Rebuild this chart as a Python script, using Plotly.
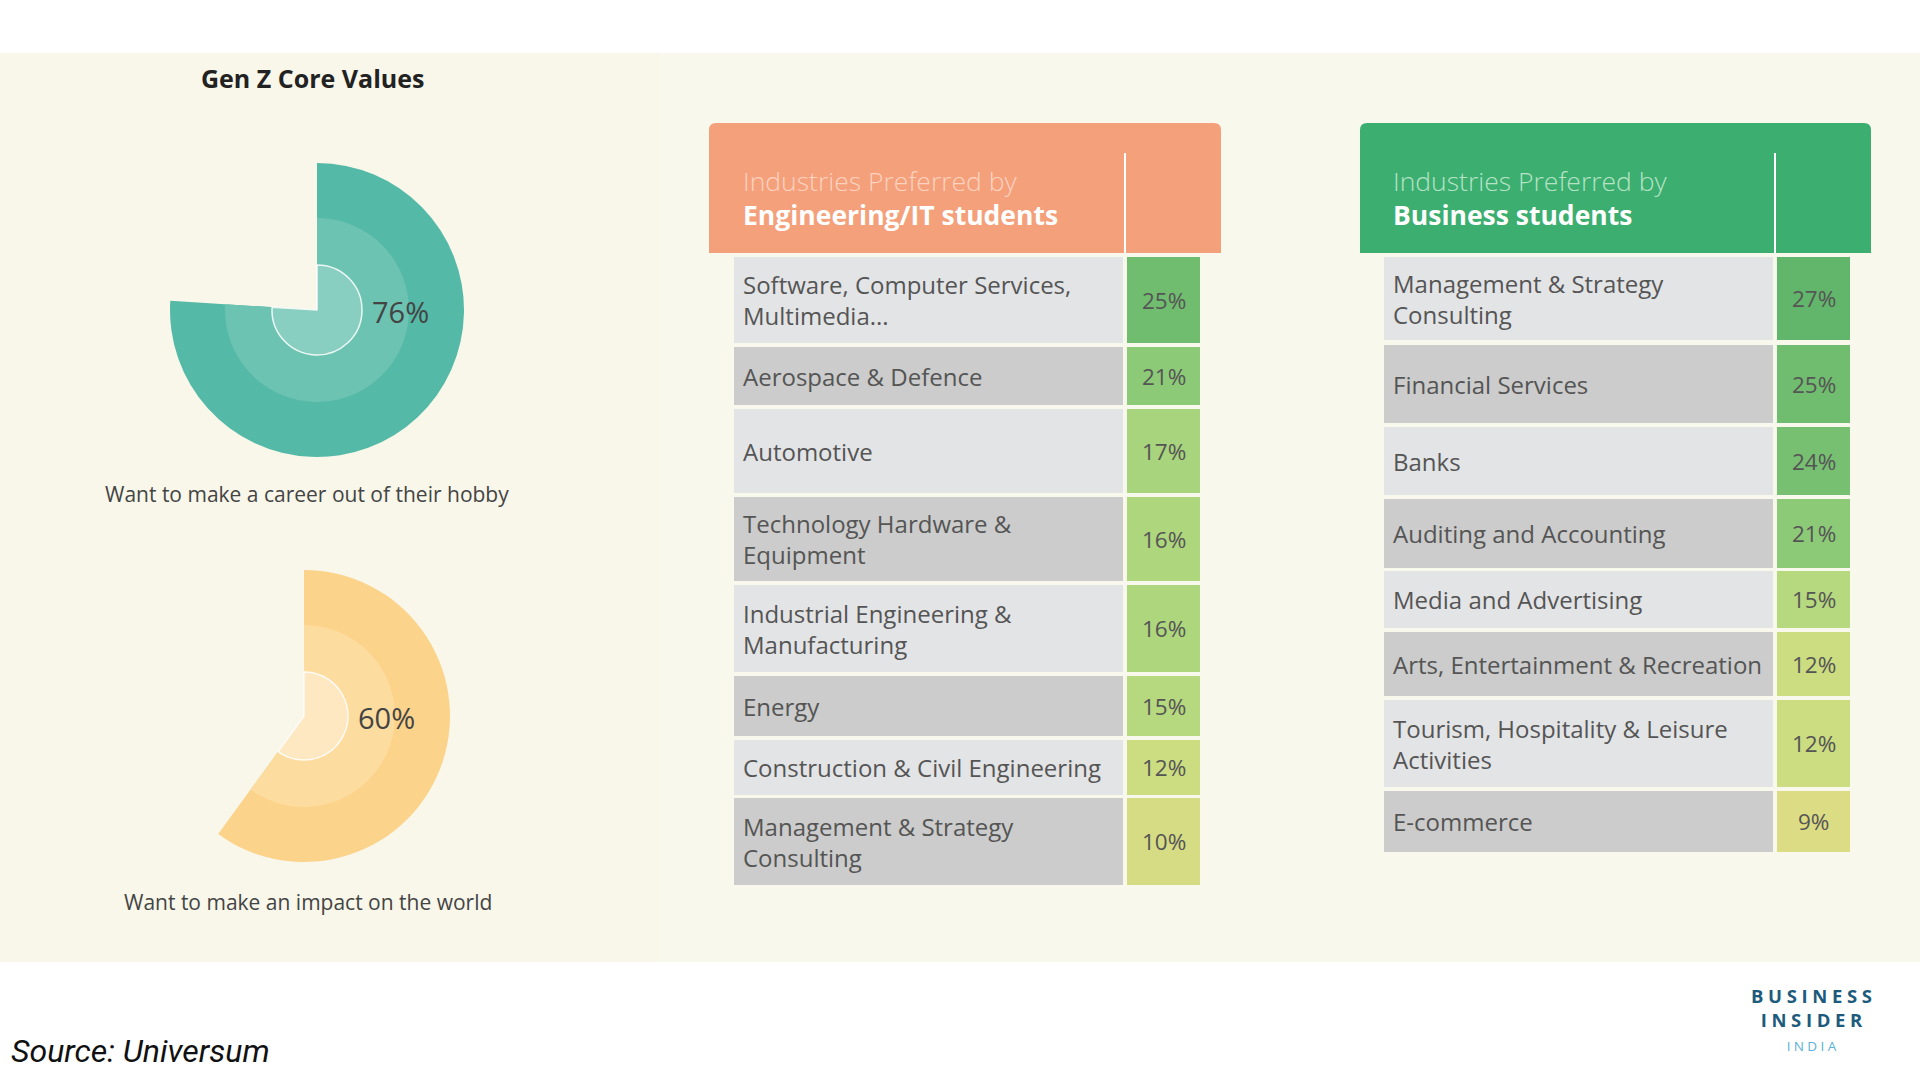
import plotly.graph_objects as go
from plotly.colors import sample_colorscale

# ---------------- data ----------------
TITLE = "Gen Z Core Values"
CORE_VALUES = [76, 60]
CORE_LABELS = ["Want to make a career out of their hobby", "Want to make an impact on the world"]

ENG_INDUSTRIES = [
    "Software, Computer Services,<br>Multimedia...",
    "Aerospace & Defence",
    "Automotive",
    "Technology Hardware &<br>Equipment",
    "Industrial Engineering &<br>Manufacturing",
    "Energy",
    "Construction & Civil Engineering",
    "Management & Strategy<br>Consulting",
]
ENG_SHARES = [25, 21, 17, 16, 16, 15, 12, 10]

BUS_INDUSTRIES = [
    "Management & Strategy<br>Consulting",
    "Financial Services",
    "Banks",
    "Auditing and Accounting",
    "Media and Advertising",
    "Arts, Entertainment & Recreation",
    "Tourism, Hospitality & Leisure<br>Activities",
    "E-commerce",
]
BUS_SHARES = [27, 25, 24, 21, 15, 12, 12, 9]

ENG_HEADER = ("Industries Preferred by", "Engineering/IT students")
BUS_HEADER = ("Industries Preferred by", "Business students")
SOURCE = "Source: Universum"

# ---------------- layout / style ----------------
W, H = 1920, 1080
FONT = "Open Sans"
BG = "#f9f8ed"
BG_LEFT = "#f8f7ea"
LIGHT_ROW, DARK_ROW = "#e3e4e6", "#cbcccb"
TEXT = "#555555"

DONUTS = [  # center x, center y, radii (outer, middle, inner), colors
    dict(cx=317, cy=310, r=(147, 92, 45), colors=("#55b9a7", "#6dc3b2", "#88cfc1")),
    dict(cx=304, cy=716, r=(146, 91, 44), colors=("#fcd38b", "#fddca0", "#fde8c2")),
]
DONUT_LABEL_POS = [(400, 311), (386, 717)]
CAPTION_POS = [(307, 494), (308, 902)]

ENG_ROWS = [(257, 343), (347, 405), (409, 493), (497, 581), (585, 672), (676, 736), (740, 795), (798, 885)]
BUS_ROWS = [(257, 340), (345, 423), (427, 495), (499, 568), (571, 628), (632, 696), (700, 787), (791, 852)]

TABLES = [
    dict(names=ENG_INDUSTRIES, vals=ENG_SHARES, rows=ENG_ROWS, header=ENG_HEADER,
         hx0=709, hx1=1221, lx0=734, lx1=1123, vx0=1127, vx1=1200,
         hcolor="#f4a07b", sub_color="#fcd3c0"),
    dict(names=BUS_INDUSTRIES, vals=BUS_SHARES, rows=BUS_ROWS, header=BUS_HEADER,
         hx0=1360, hx1=1871, lx0=1384, lx1=1773, vx0=1777, vx1=1850,
         hcolor="#3bae70", sub_color="#b6e3c6"),
]
HEADER_Y0, HEADER_Y1 = 123, 253
VALUE_SCALE = [[0, "#dcdc85"], [0.2, "#c8dc80"], [0.45, "#a6d47c"], [0.7, "#88c877"], [1, "#62b66b"]]
VMIN, VMAX = 9, 27

fig = go.Figure()

# background panel
shapes = [
    dict(type="rect", xref="x", yref="y", x0=0, x1=W, y0=53, y1=962, fillcolor=BG, line_width=0, layer="below"),
    dict(type="rect", xref="x", yref="y", x0=0, x1=660, y0=53, y1=962, fillcolor=BG_LEFT, line_width=0, layer="below"),
]
annotations = []


def rounded_rect(x0, y0, x1, y1, r):
    return (f"M{x0+r},{y0} L{x1-r},{y0} Q{x1},{y0} {x1},{y0+r} L{x1},{y1} "
            f"L{x0},{y1} L{x0},{y0+r} Q{x0},{y0} {x0+r},{y0} Z")


# ---------------- donuts ----------------
for d, val, lbl, lpos, cpos in zip(DONUTS, CORE_VALUES, CORE_LABELS, DONUT_LABEL_POS, CAPTION_POS):
    for i, (r, col) in enumerate(zip(d["r"], d["colors"])):
        line_cols = ["rgba(255,255,255,0.85)", "rgba(0,0,0,0)"] if i == 2 else ["rgba(0,0,0,0)", "rgba(0,0,0,0)"]
        fig.add_trace(go.Pie(
            values=[val, 100 - val], sort=False, direction="clockwise", rotation=0,
            marker=dict(colors=[col, "rgba(0,0,0,0)"], line=dict(color=line_cols, width=1.5)),
            textinfo="none", hoverinfo="skip", showlegend=False,
            domain=dict(x=[(d["cx"] - r) / W, (d["cx"] + r) / W],
                        y=[1 - (d["cy"] + r) / H, 1 - (d["cy"] - r) / H]),
        ))
    annotations.append(dict(x=lpos[0], y=lpos[1], xref="x", yref="y", text=f"{val}%", showarrow=False,
                            font=dict(family=FONT, size=29, color="#444444"), xanchor="center", yanchor="middle"))
    annotations.append(dict(x=cpos[0], y=cpos[1], xref="x", yref="y", text=lbl, showarrow=False,
                            font=dict(family=FONT, size=21, color="#444444"), xanchor="center", yanchor="middle"))

annotations.append(dict(x=312, y=78, xref="x", yref="y", text=f"<b>{TITLE}</b>", showarrow=False,
                        font=dict(family=FONT, size=25, color="#222222"), xanchor="center", yanchor="middle"))

# ---------------- tables ----------------
for t in TABLES:
    # header
    shapes.append(dict(type="path", xref="x", yref="y",
                       path=rounded_rect(t["hx0"], HEADER_Y0, t["hx1"], HEADER_Y1, 7),
                       fillcolor=t["hcolor"], line_width=0, layer="below"))
    shapes.append(dict(type="line", xref="x", yref="y", x0=(t["lx1"] + t["vx0"]) / 2, x1=(t["lx1"] + t["vx0"]) / 2,
                       y0=153, y1=HEADER_Y1, line=dict(color="white", width=2), layer="above"))
    annotations.append(dict(x=t["lx0"] + 7, y=181, xref="x", yref="y", text=t["header"][0], showarrow=False,
                            font=dict(family=FONT, size=26.5, color=t["sub_color"], weight=300),
                            xanchor="left", yanchor="middle"))
    annotations.append(dict(x=t["lx0"] + 7, y=215, xref="x", yref="y", text=f"<b>{t['header'][1]}</b>",
                            showarrow=False, font=dict(family=FONT, size=26.5, color="white"),
                            xanchor="left", yanchor="middle"))

    tops = [r[0] for r in t["rows"]]
    heights = [r[1] - r[0] for r in t["rows"]]
    mids = [(a + b) / 2 for a, b in t["rows"]]
    row_cols = [LIGHT_ROW if i % 2 == 0 else DARK_ROW for i in range(len(tops))]
    val_cols = sample_colorscale(VALUE_SCALE, [(v - VMIN) / (VMAX - VMIN) for v in t["vals"]])

    # label cells
    fig.add_trace(go.Bar(x=[(t["lx0"] + t["lx1"]) / 2] * len(tops), y=heights, base=tops,
                         width=t["lx1"] - t["lx0"], marker=dict(color=row_cols, line_width=0),
                         hoverinfo="skip", showlegend=False))
    # value cells
    fig.add_trace(go.Bar(x=[(t["vx0"] + t["vx1"]) / 2] * len(tops), y=heights, base=tops,
                         width=t["vx1"] - t["vx0"], marker=dict(color=val_cols, line_width=0),
                         hoverinfo="skip", showlegend=False))
    # texts
    for name, v, m in zip(t["names"], t["vals"], mids):
        annotations.append(dict(x=t["lx0"] + 7, y=m, xref="x", yref="y", text=name, showarrow=False,
                                font=dict(family=FONT, size=24, color=TEXT), xanchor="left", yanchor="middle",
                                align="left"))
        annotations.append(dict(x=(t["vx0"] + t["vx1"]) / 2, y=m, xref="x", yref="y", text=f"{v}%",
                                showarrow=False, font=dict(family=FONT, size=22.5, color=TEXT),
                                xanchor="center", yanchor="middle"))

# ---------------- footer ----------------
annotations.append(dict(x=9, y=1051, xref="x", yref="y", text=f"<i>{SOURCE}</i>", showarrow=False,
                        font=dict(family="Roboto", size=32, color="#111111"), xanchor="left", yanchor="middle"))
sp = "\u2005"
logo_text = (f"<b>{sp.join('BUSINESS')}</b><br><b>{sp.join('INSIDER')}</b><br>"
             f"<span style='font-size:13.5px;color:#5ab2d9'>{sp.join('INDIA')}</span>")
annotations.append(dict(x=1811, y=1019, xref="x", yref="y", text=logo_text, showarrow=False, align="center",
                        font=dict(family=FONT, size=18.5, color="#1d5b7c"), xanchor="center", yanchor="middle"))

fig.update_layout(
    width=W, height=H, margin=dict(l=0, r=0, t=0, b=0),
    paper_bgcolor="white", plot_bgcolor="rgba(0,0,0,0)",
    barmode="overlay", bargap=0,
    xaxis=dict(range=[0, W], visible=False, fixedrange=True, domain=[0, 1]),
    yaxis=dict(range=[H, 0], visible=False, fixedrange=True, domain=[0, 1]),
    shapes=shapes, annotations=annotations, showlegend=False,
)

fig.write_html("out.html", config={"displayModeBar": False},
               post_script="document.body.style.margin='0';")
